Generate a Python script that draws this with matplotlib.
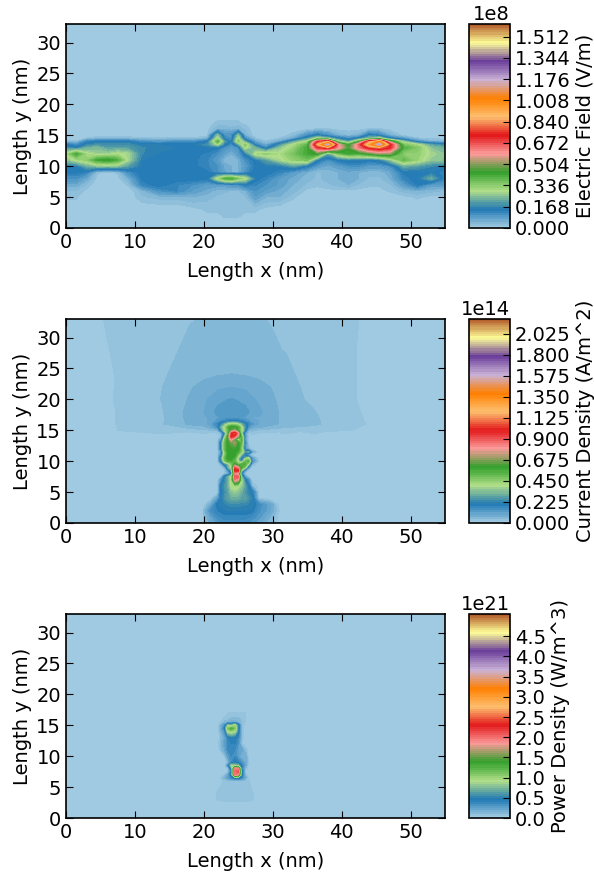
# Field maps of the filament: electric field, current density, power density
import numpy as np
import matplotlib
matplotlib.use("Agg")
import matplotlib.pyplot as plt
from matplotlib.colors import LinearSegmentedColormap

# electric field, in 1e8 V/m, rows go from the top of the panel downwards
x_field = [0, 1.5, 3, 4.5, 6, 7.5, 9, 11, 13.5, 16, 18.5, 20.5, 22, 23, 24, 25, 26, 27.5, 29, 31, 33, 35,
           36.5, 38, 39.5, 41, 42.5, 44, 45.5, 47, 49, 51, 53, 55]
y_field = [33, 19, 17, 16, 15, 14.5, 14, 13.5, 13, 12, 11, 10, 9, 8, 7, 6, 5, 3, 0]
field = [
    [0, 0, 0, 0, 0, 0, 0, 0, 0, 0, 0, 0, 0, 0, 0, 0, 0, 0, 0, 0, 0, 0, 0, 0, 0, 0, 0, 0, 0, 0, 0, 0, 0, 0],
    [0, 0, 0, 0, 0, 0, 0, 0, 0, 0, 0, 0, 0, 0, 0, 0, 0, 0, 0, 0, 0, 0, 0, 0, 0, 0, 0, 0, 0, 0, 0, 0, 0, 0],
    [0, 0, 0, 0, 0, 0, 0, 0, 0, 0, 0, .01, .02, .02, .02, .02, .01, 0, 0, 0, 0, 0, 0, 0, 0, 0, 0, 0, 0, 0, 0, 0, 0, 0],
    [0, 0, 0, 0, 0, 0, 0, 0, 0, 0, 0, .01, .05, .05, .04, .05, .03, 0, 0, 0, 0, .01, .02, .02, .01, .01, .01, .02, .02, .01, 0, 0, 0, 0],
    [0, 0, .005, .005, .005, .005, .005, .005, .005, .005, .005, .01, .25, .1, .1, .25, .05, 0, 0, 0, .03, .1, .15, .1, .05, .03, .05, .15, .12, .05, .01, 0, 0, 0],
    [0, 0, .02, .03, .03, .03, .03, .02, .02, .02, .02, .04, .3, .12, .1, .3, .1, .02, 0, .02, .06, .18, .3, .25, .15, .1, .15, .25, .3, .15, .08, .02, .01, .01],
    [.03, .02, .12, .14, .14, .14, .14, .1, .08, .1, .1, .14, .4, .2, .12, .35, .2, .06, .02, .06, .2, .3, .7, .85, .3, .2, .4, .8, 1.0, .5, .25, .1, .05, .04],
    [.14, .1, .16, .18, .18, .18, .18, .15, .15, .15, .15, .18, .28, .15, .1, .2, .35, .12, .05, .18, .3, .38, .85, 1.2, .6, .4, .65, .95, 1.2, .75, .35, .3, .2, .16],
    [.18, .14, .22, .24, .2, .2, .2, .17, .16, .15, .15, .15, .14, .1, .08, .1, .3, .22, .1, .25, .32, .42, .7, .8, .6, .45, .62, .75, .8, .72, .4, .35, .25, .22],
    [.3, .42, .3, .27, .27, .3, .28, .17, .15, .15, .14, .13, .1, .07, .05, .08, .15, .3, .33, .3, .36, .42, .45, .2, .35, .42, .4, .45, .5, .5, .33, .33, .28, .25],
    [.25, .3, .33, .42, .45, .4, .28, .15, .14, .14, .14, .12, .08, .04, .04, .05, .1, .15, .2, .28, .33, .36, .15, .1, .14, .16, .16, .14, .16, .25, .38, .32, .26, .25],
    [.15, .15, .22, .25, .25, .25, .2, .15, .15, .15, .14, .12, .1, .06, .05, .05, .08, .14, .15, .15, .2, .14, .08, .06, .08, .1, .1, .08, .08, .1, .22, .2, .17, .15],
    [.14, .14, .12, .02, .01, .02, .1, .15, .15, .15, .15, .14, .1, .07, .05, .05, .1, .15, .15, .12, .08, .05, .03, .04, .05, .06, .05, .04, .04, .06, .14, .14, .15, .12],
    [.1, .1, .06, .01, .01, .01, .05, .14, .15, .15, .15, .14, .3, .4, .42, .35, .3, .15, .12, .08, .06, .04, .03, .04, .05, .06, .05, .03, .03, .05, .12, .15, .22, .12],
    [.06, .06, .03, 0, 0, 0, .02, .12, .15, .12, .1, .08, .08, .08, .1, .1, .14, .12, .1, .08, .05, .03, .02, .03, .04, .05, .03, .02, .02, .03, .08, .14, .08, .08],
    [.03, .03, .01, 0, 0, 0, 0, .04, .1, .12, .08, .06, .04, .04, .03, .03, .05, .1, .08, .06, .04, .01, .01, .01, .01, .01, .01, .01, .01, .02, .04, .05, .04, .03],
    [.02, .02, 0, 0, 0, 0, 0, .03, .04, .04, .05, .04, .03, .02, .02, .03, .03, .08, .05, .05, .02, 0, 0, 0, 0, 0, 0, 0, 0, 0, .01, .02, .01, .01],
    [0, 0, 0, 0, 0, 0, 0, 0, 0, 0, .01, .02, .02, .03, .03, .03, .02, .02, .01, 0, 0, 0, 0, 0, 0, 0, 0, 0, 0, 0, 0, 0, 0, 0],
    [0, 0, 0, 0, 0, 0, 0, 0, 0, 0, 0, 0, 0, 0, 0, 0, 0, 0, 0, 0, 0, 0, 0, 0, 0, 0, 0, 0, 0, 0, 0, 0, 0, 0],
]

# current density, in 1e14 A/m^2: wide spreading outside, narrow filament on top of it
x_spread = [0, 4, 6, 8, 14, 18, 20, 22, 24, 26, 28, 30, 32, 34, 36, 38, 41, 44, 50, 55]
y_spread = [33, 28, 24, 22, 20, 18, 17, 16, 15, 14.5, 14, 0]
spread = [
    [.012, .02, .0235, .024, .03, .044, .046, .048, .05, .048, .046, .044, .038, .032, .03, .028, .025, .02, .015, .012],
    [.012, .018, .022, .025, .038, .05, .05, .052, .055, .052, .05, .047, .044, .036, .032, .028, .024, .02, .015, .012],
    [.012, .018, .021, .024, .042, .058, .062, .066, .068, .066, .063, .058, .05, .042, .034, .03, .024, .02, .015, .012],
    [.012, .018, .021, .024, .045, .065, .075, .085, .09, .085, .075, .066, .055, .045, .036, .03, .024, .02, .015, .012],
    [.012, .017, .021, .0245, .046, .07, .085, .105, .115, .105, .085, .07, .057, .047, .04, .032, .024, .02, .015, .012],
    [.012, .016, .02, .024, .044, .075, .09, .12, .135, .12, .095, .073, .06, .05, .046, .036, .026, .02, .015, .012],
    [.012, .016, .02, .024, .042, .075, .085, .11, .13, .11, .09, .072, .06, .052, .048, .04, .028, .02, .015, .012],
    [.012, .016, .02, .024, .044, .072, .08, .11, .15, .11, .08, .07, .062, .055, .05, .04, .03, .021, .015, .012],
    [.01, .012, .018, .024, .03, .035, .04, .05, .08, .05, .04, .035, .032, .03, .03, .028, .024, .016, .012, .01],
    [.01, .012, .012, .015, .024, .012, .024, .012, .03, .012, .024, .012, .024, .012, .024, .012, .012, .012, .01, .01],
    [.01, .01, .01, .01, .01, .01, .01, .01, .01, .01, .01, .01, .01, .01, .01, .01, .01, .01, .01, .01],
    [.01, .01, .01, .01, .01, .01, .01, .01, .01, .01, .01, .01, .01, .01, .01, .01, .01, .01, .01, .01],
]
x_filament = [20, 21, 22, 22.5, 23, 23.5, 24, 24.5, 25, 25.5, 26, 26.5, 27, 28, 29.5, 31]
y_filament = [17, 16.5, 16, 15.5, 15, 14.5, 14, 13.5, 13, 12, 11.5, 11, 10.5, 10, 9.5, 9, 8.5, 8, 7.5, 7, 6, 5, 4, 3, 2, 1, 0]
filament = [
    [.085, .095, .11, .115, .12, .125, .13, .125, .12, .115, .11, .1, .09, .09, .08, .066],
    [.085, .095, .12, .14, .16, .18, .2, .2, .18, .16, .14, .12, .1, .09, .08, .066],
    [.08, .1, .16, .22, .3, .38, .42, .42, .38, .3, .22, .16, .12, .09, .075, .066],
    [.06, .08, .14, .3, .4, .55, .62, .6, .55, .4, .25, .12, .08, .07, .06, .05],
    [.04, .045, .05, .2, .4, .5, .62, .7, .55, .42, .2, .05, .05, .04, .035, .033],
    [.024, .015, .02, .04, .2, .5, .95, 1.05, .8, .35, .1, .02, .03, .02, .02, .012],
    [.01, .01, .01, .03, .3, .6, 1.0, .9, .7, .5, .12, .01, .01, .01, .01, .01],
    [.01, .01, .01, .1, .45, .6, .8, .6, .3, .55, .1, .01, .01, .01, .01, .01],
    [.01, .01, .01, .2, .5, .6, .65, .7, .6, .5, .15, .01, .01, .01, .01, .01],
    [.01, .01, .01, .2, .5, .6, .6, .6, .6, .45, .12, .05, .01, .01, .01, .01],
    [.01, .01, .01, .1, .45, .6, .6, .6, .55, .45, .25, .3, .08, .01, .01, .01],
    [.01, .01, .01, .15, .45, .6, .6, .6, .45, .3, .15, .05, .01, .01, .01, .01],
    [.01, .01, .01, .25, .5, .6, .6, .55, .35, .15, .3, .4, .1, .01, .01, .01],
    [.01, .01, .01, .2, .45, .55, .55, .5, .35, .2, .5, .55, .15, .01, .01, .01],
    [.01, .01, .01, .05, .2, .3, .45, .6, .5, .55, .55, .35, .05, .01, .01, .01],
    [.01, .01, .01, .01, .05, .3, .4, .9, .75, .55, .45, .1, .01, .01, .01, .01],
    [.01, .01, .01, .01, .02, .1, .3, 1.0, 1.0, .35, .08, .01, .01, .01, .01, .01],
    [.01, .01, .01, .01, .02, .05, .2, .8, .7, .15, .02, .01, .01, .01, .01, .01],
    [.01, .01, .01, .02, .2, .3, .4, .9, .9, .3, .1, .02, .01, .01, .01, .01],
    [.01, .01, .01, .12, .22, .3, .42, .85, .75, .4, .2, .12, .01, .01, .01, .01],
    [.01, .01, .01, .2, .25, .3, .4, .42, .4, .35, .28, .2, .05, .01, .01, .01],
    [.01, .01, .01, .2, .24, .28, .34, .36, .34, .3, .26, .22, .2, .01, .01, .01],
    [.01, .01, .1, .2, .25, .28, .3, .3, .3, .28, .28, .25, .22, .02, .01, .01],
    [.01, .08, .2, .21, .22, .23, .24, .24, .24, .23, .23, .22, .22, .15, .1, .01],
    [.05, .14, .18, .19, .2, .2, .2, .2, .2, .2, .2, .2, .19, .14, .1, .02],
    [.04, .1, .15, .16, .17, .17, .17, .17, .17, .17, .17, .16, .15, .12, .07, .01],
    [.03, .08, .12, .13, .14, .14, .14, .14, .14, .14, .14, .13, .12, .1, .05, .01],
]

# power density, in 1e21 W/m^3
x_power = [0, 21, 22, 23, 23.5, 24, 24.5, 25, 25.5, 26, 26.5, 27, 28, 55]
y_power = [33, 17.5, 17, 16, 15.5, 15, 14.5, 14, 13, 12, 11, 10, 9, 8.5, 8, 7.5, 7, 6.5, 6, 4, 3, 2, 0]
power = [
    [0, 0, 0, 0, 0, 0, 0, 0, 0, 0, 0, 0, 0, 0],
    [0, 0, 0, 0, 0, 0, 0, 0, 0, 0, 0, 0, 0, 0],
    [0, 0, 0, .03, .05, .06, .06, .06, .06, .05, .03, 0, 0, 0],
    [0, 0, .02, .06, .09, .11, .11, .11, .09, .06, .02, 0, 0, 0],
    [0, 0, .01, .12, .15, .2, .2, .15, .1, .05, .01, 0, 0, 0],
    [0, 0, 0, .3, .8, .7, 1.0, .5, .1, .02, 0, 0, 0, 0],
    [0, 0, 0, .4, 1.1, 1.3, 1.1, .5, .1, 0, 0, 0, 0, 0],
    [0, 0, 0, .3, .9, 1.0, .9, .5, .1, 0, 0, 0, 0, 0],
    [0, 0, 0, .2, .4, .45, .45, .35, .1, 0, 0, 0, 0, 0],
    [0, 0, .02, .25, .35, .4, .4, .3, .05, .02, 0, 0, 0, 0],
    [0, 0, 0, .2, .35, .4, .35, .25, .25, .1, .02, 0, 0, 0],
    [0, 0, 0, .05, .25, .35, .35, .25, .1, .2, .02, 0, 0, 0],
    [0, 0, 0, 0, .1, .35, .45, .4, .3, .2, .05, 0, 0, 0],
    [0, 0, 0, 0, .3, .9, .8, .7, .4, .2, .02, 0, 0, 0],
    [0, 0, 0, 0, .05, .5, 1.9, 1.9, .4, .1, 0, 0, 0, 0],
    [0, 0, 0, 0, .05, .4, 2.0, 2.1, .5, .05, 0, 0, 0, 0],
    [0, 0, 0, .05, .2, .5, 2.0, 1.8, .5, .1, 0, 0, 0, 0],
    [0, 0, 0, .15, .25, .35, .5, .5, .35, .2, .02, 0, 0, 0],
    [0, 0, 0, .06, .06, .07, .07, .07, .07, .06, .06, 0, 0, 0],
    [0, 0, .06, .07, .07, .07, .07, .07, .07, .07, .06, .06, 0, 0],
    [0, 0, .06, .07, .07, .07, .07, .07, .07, .07, .07, .06, 0, 0],
    [0, 0, 0, 0, 0, 0, 0, 0, 0, 0, 0, 0, 0, 0],
    [0, 0, 0, 0, 0, 0, 0, 0, 0, 0, 0, 0, 0, 0],
]

field_ticks = [0.000, 0.168, 0.336, 0.504, 0.672, 0.840, 1.008, 1.176, 1.344, 1.512]
current_ticks = [0.000, 0.225, 0.450, 0.675, 0.900, 1.125, 1.350, 1.575, 1.800, 2.025]
power_ticks = [0.0, 0.5, 1.0, 1.5, 2.0, 2.5, 3.0, 3.5, 4.0, 4.5]

plt.rcParams['font.family'] = 'DejaVu Sans'
plt.rcParams['font.size'] = 14
plt.rcParams['axes.linewidth'] = 1.2
W, H = 594, 876

# old style Paired: blends between the 12 colours instead of 12 flat steps
paired = LinearSegmentedColormap.from_list('paired_smooth', plt.get_cmap('Paired').colors, N=256)


def draw(top, layers, step, nlev, scale, ticks, label):
    ax = plt.axes([66 / W, 1 - (top + 204) / H, 379 / W, 204 / H])
    levels = np.arange(nlev) * step * scale
    for xs, ys, zs in layers:
        cf = ax.contourf(xs, ys[::-1], (np.array(zs) * scale)[::-1], levels=levels, cmap=paired)
    ax.set_xlim(0, 55)
    ax.set_ylim(0, 33)
    ax.set_xticks([0, 10, 20, 30, 40, 50])
    ax.set_yticks([0, 5, 10, 15, 20, 25, 30])
    ax.tick_params(direction='in', top=True, right=True, length=5, labelsize=14)
    ax.set_xlabel("Length x (nm)", fontsize=14, labelpad=7)
    ax.set_ylabel("Length y (nm)", fontsize=14, labelpad=3)
    cax = plt.axes([469 / W, 1 - (top + 204) / H, 41 / W, 204 / H])
    cb = fig.colorbar(cf, cax=cax, ticks=np.array(ticks) * scale)
    cb.ax.tick_params(direction='in', length=5, labelsize=14)
    cb.set_label(label, fontsize=14, labelpad=3.5)
    cb.ax.yaxis.get_offset_text().set_fontsize(14)


fig = plt.figure(figsize=(5.94, 8.76), dpi=100)
draw(24, [(x_field, y_field, field)], 0.0168, 97, 1e8, field_ticks, "Electric Field (V/m)")
draw(319, [(x_spread, y_spread, spread), (x_filament, y_filament, filament)], 0.0225, 98, 1e14, current_ticks,
     "Current Density (A/m^2)")
draw(614, [(x_power, y_power, power)], 0.05, 102, 1e21, power_ticks, "Power Density (W/m^3)")
plt.savefig("out.png", dpi=100)
